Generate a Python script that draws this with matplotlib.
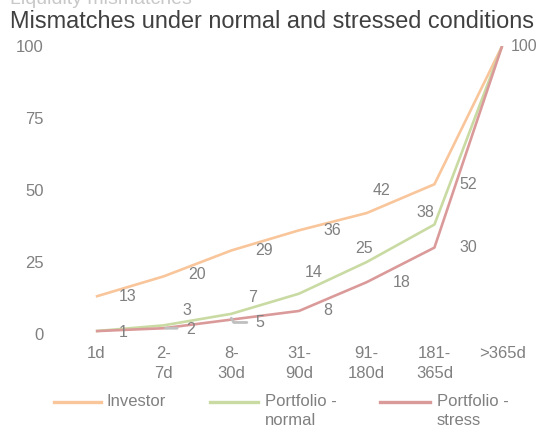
import matplotlib
matplotlib.use('Agg')
import matplotlib.pyplot as plt
from matplotlib.lines import Line2D
import numpy as np

plt.rcParams['font.family'] = ['Liberation Sans', 'DejaVu Sans']

categories = ['1d', '2-\n7d', '8-\n30d', '31-\n90d', '91-\n180d', '181-\n365d', '>365d']
investor = [13, 20, 29, 36, 42, 52, 100]
normal = [1, 3, 7, 14, 25, 38, 100]
stress = [1, 2, 5, 8, 18, 30, 100]
series_names = ['Investor', 'Portfolio -\nnormal', 'Portfolio -\nstress']
COL = ['#F9C59A', '#C9DBA3', '#DB9A9A']
GREY = '#808080'

# label offsets in pixels (dx, dy) relative to each point; None = hidden
OFF_INV = [(32, 0), (33, 2), (33, 0), (33, 0), (15, 23), (34, 0), (22, 0)]
OFF_NOR = [(27, -1), (23, 15), (21, 16), (15, 21), (-3, 14), (-9, 12), None]
OFF_STR = [None, (27, -1), (29, -3), (29, 0), (35, 0), (34, 0), None]

W, H = 545, 428
fig = plt.figure(figsize=(W / 100, H / 100), dpi=100)
ax = fig.add_axes([62 / W, 1 - 334 / H, 474 / W, 288 / H])
x = np.arange(len(categories))

for vals, c in zip([investor, normal, stress], COL):
    ax.plot(x, vals, color=c, lw=1.9, solid_capstyle='butt')

for vals, offs in zip([investor, normal, stress], [OFF_INV, OFF_NOR, OFF_STR]):
    for xi, v, o in zip(x, vals, offs):
        if o is None:
            continue
        ax.annotate(str(v), (xi, v), xytext=(o[0] * 0.72, o[1] * 0.72),
                    textcoords='offset points', ha='center', va='center',
                    fontsize=11.5, color=GREY, annotation_clip=False)

# leader lines for the crowded stress labels
ax.annotate('', xy=(1.03, 2), xytext=(1.2, 2),
            arrowprops=dict(arrowstyle='-', color='#BFBFBF', lw=2, shrinkA=0, shrinkB=0))
ax.annotate('', xy=(2.0, 5.5), xytext=(2.23, 4),
            arrowprops=dict(arrowstyle='-', color='#BFBFBF', lw=2, shrinkA=0, shrinkB=0,
                            connectionstyle='angle,angleA=0,angleB=-60,rad=0'))

ax.set_xlim(-0.5, len(categories) - 0.5)
ax.set_ylim(0, 100)
ax.set_yticks([0, 25, 50, 75, 100])
ax.set_xticks(x)
ax.set_xticklabels(categories, linespacing=1.35)
ax.tick_params(length=0, labelsize=12, labelcolor=GREY)
ax.tick_params(axis='y', pad=13)
ax.tick_params(axis='x', pad=9)
for s in ax.spines.values():
    s.set_visible(False)

fig.text(10 / W, 1 + 1 / H, 'Liquidity mismatches', fontsize=14, color='#C8C8C8',
         ha='left', va='center')
fig.text(10 / W, 1 - 21 / H, 'Mismatches under normal and stressed conditions',
         fontsize=16.9, color='#404040', ha='left', va='center')

# legend drawn by hand so multi-line labels hang from the handle line
leg_x = [(54, 101, 107), (210, 258, 265), (380, 430, 437)]
for (x0, x1, xt), c, name in zip(leg_x, COL, series_names):
    fig.add_artist(Line2D([x0 / W, x1 / W], [1 - 402 / H] * 2, color=c, lw=2.4,
                          transform=fig.transFigure))
    fig.text(xt / W, 1 - 394 / H, name, fontsize=12, color=GREY, ha='left', va='top',
             linespacing=1.3)

fig.savefig('out.png', dpi=100)
